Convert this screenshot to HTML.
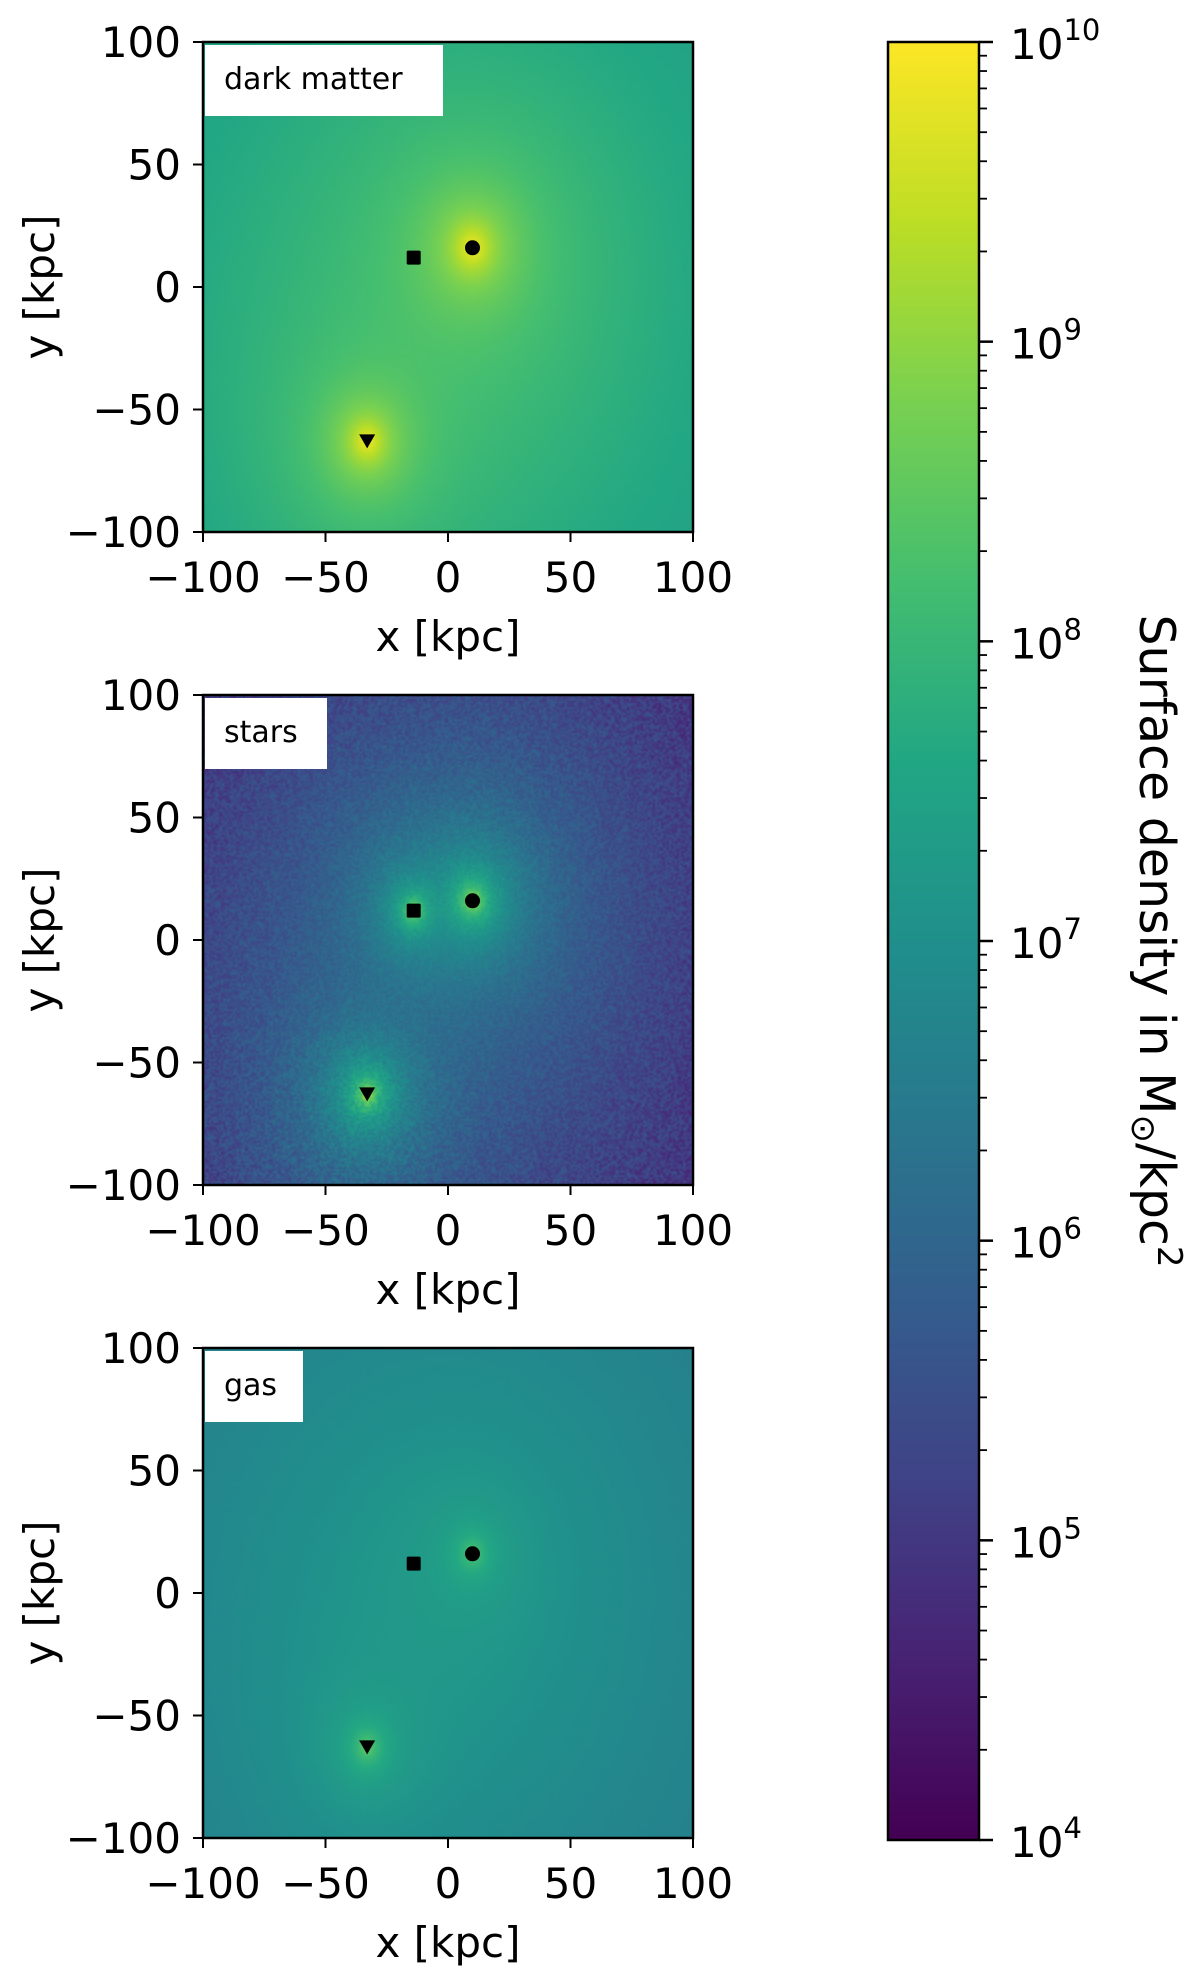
<!DOCTYPE html>
<html><head><meta charset="utf-8"><style>
html,body{margin:0;padding:0;background:#fff;}
#wrap{position:relative;width:1200px;height:1985px;overflow:hidden;font-family:"DejaVu Sans","Liberation Sans",sans-serif;}
canvas{position:absolute;}
svg{position:absolute;left:0;top:0;}
</style></head><body>
<div id="wrap">
<canvas id="c0" width="245" height="245" style="left:203px;top:42px;width:490px;height:490px"></canvas>
<canvas id="c1" width="245" height="245" style="left:203px;top:695px;width:490px;height:490px"></canvas>
<canvas id="c2" width="245" height="245" style="left:203px;top:1348px;width:490px;height:490px"></canvas>
<canvas id="cb" width="1" height="600" style="left:888px;top:42px;width:91px;height:1798px"></canvas>
<svg id="svg" width="1200" height="1985" xmlns="http://www.w3.org/2000/svg"></svg>
</div>
<script>
// ---- data ----
const panelNames = ["dark matter","stars","gas"];
const panelTops = [42,695,1348];
const xTicks = [-100,-50,0,50,100];
const yTicks = [-100,-50,0,50,100];
const cbarExps = [4,5,6,7,8,9,10];
// markers (x,y in kpc)
const markerX = [10,-14,-33];
const markerY = [16,12,-63];
const markerKind = ["circle","square","triangle"];
// density model parameters per panel
const bgLog = [6.3,3.8,6.0];
const compX = [[10,-33,0],[10,-14,-33,-5],[10,-33,-5]];
const compY = [[16,-63,-5],[16,12,-63,-10],[16,-63,0]];
const compLog = [[9.8,9.8,7.95],[9.3,9.0,9.2,5.35],[8.3,8.6,7.05]];
const compScale = [[4,3.5,50],[1.5,1.5,1.5,35],[2,1.5,55]];
const compExp = [[1.0,1.0,0.75],[1.25,1.25,1.25,0.75],[0.75,0.75,0.75]];
const noiseAmp = [0.02,0.75,0.03];

const VIR=[[68,1,84],[72,35,116],[64,67,135],[52,94,141],[41,120,142],[32,144,140],[34,167,132],[68,190,112],[121,209,81],[189,222,38],[253,231,37]];
function vir(t){t=Math.max(0,Math.min(1,t));const f=t*10,i=Math.min(9,Math.floor(f)),r=f-i;const a=VIR[i],b=VIR[i+1];return[a[0]+(b[0]-a[0])*r,a[1]+(b[1]-a[1])*r,a[2]+(b[2]-a[2])*r];}
let seed=12345;function rnd(){seed=(seed*1103515245+12345)%2147483648;return seed/2147483648;}

const L=203,W=490;
function sx(v){return L+(v+100)/200*W;}
function sy(v,top){return top+(100-v)/200*W;}

for(let p=0;p<3;p++){
  const cv=document.getElementById('c'+p),ctx=cv.getContext('2d'),N=245;
  const img=ctx.createImageData(N,N);
  for(let j=0;j<N;j++)for(let i=0;i<N;i++){
    const x=-100+(i+0.5)/N*200,y=100-(j+0.5)/N*200;
    let s=Math.pow(10,bgLog[p]);
    for(let k=0;k<compX[p].length;k++){
      const dx=x-compX[p][k],dy=(y-compY[p][k])*0.8,r2=(dx*dx+dy*dy)/(compScale[p][k]*compScale[p][k]);
      s+=Math.pow(10,compLog[p][k])/Math.pow(1+r2,compExp[p][k]);
    }
    let lg=Math.log10(s);
    const dist=Math.sqrt(x*x+y*y)/140;
    lg+=(rnd()-0.5)*noiseAmp[p]*(0.3+dist);
    const c=vir((lg-4)/6),o=(j*N+i)*4;
    img.data[o]=c[0];img.data[o+1]=c[1];img.data[o+2]=c[2];img.data[o+3]=255;
  }
  ctx.putImageData(img,0,0);
}
(function(){const cv=document.getElementById('cb'),ctx=cv.getContext('2d');for(let j=0;j<600;j++){const c=vir(1-j/599);ctx.fillStyle=`rgb(${c[0]|0},${c[1]|0},${c[2]|0})`;ctx.fillRect(0,j,1,1);}})();

const svg=document.getElementById('svg'),NS='http://www.w3.org/2000/svg';
function mk(tag,attrs,parent){const e=document.createElementNS(NS,tag);for(const k in attrs)e.setAttribute(k,attrs[k]);(parent||svg).appendChild(e);return e;}

for(let p=0;p<3;p++){
  const top=panelTops[p];
  const g=mk('g',{});
  
  
  const box=mk('rect',{x:205,y:top+3,width:panelNames[p]=='dark matter'?238:panelNames[p]=='stars'?122:98,height:71,fill:'#fff'},g);
  
  
  const lt=mk('text',{x:224,y:top+47,'font-size':30,fill:'#000'},g);lt.textContent=panelNames[p];
  
  
  for(let m=0;m<3;m++){
    const cx=sx(markerX[m]),cy=sy(markerY[m],top);let e;
    if(markerKind[m]=='circle')e=mk('circle',{cx:cx,cy:cy,r:7.5,fill:'#000'},g);
    else if(markerKind[m]=='square')e=mk('rect',{x:cx-7,y:cy-7,width:14,height:14,rx:1.5,fill:'#000'},g);
    else e=mk('path',{d:`M${cx-8},${cy-7}L${cx+8},${cy-7}L${cx},${cy+7}Z`,fill:'#000'},g);
    
    
  }
  const fr=mk('rect',{x:L,y:top,width:W,height:W,fill:'none',stroke:'#000','stroke-width':2.5},g);
  
  
  xTicks.forEach(v=>{const x=sx(v);mk('line',{x1:x,x2:x,y1:top+W,y2:top+W+10,stroke:'#000','stroke-width':2},g);
    const t=mk('text',{x:x,y:top+W+60,'font-size':42,'text-anchor':'middle'},g);t.textContent=(v<0?'\u2212':'')+Math.abs(v);
    
    });
  yTicks.forEach(v=>{const y=sy(v,top);mk('line',{x1:L-10,x2:L,y1:y,y2:y,stroke:'#000','stroke-width':2},g);
    const t=mk('text',{x:L-22,y:y+15,'font-size':42,'text-anchor':'end'},g);t.textContent=(v<0?'\u2212':'')+Math.abs(v);
    
    });
  const xl=mk('text',{x:L+W/2,y:top+W+119,'font-size':42,'text-anchor':'middle'},g);xl.textContent='x [kpc]';
  
  
  const yl=mk('text',{x:0,y:0,'font-size':42,'text-anchor':'middle',transform:`translate(54,${top+W/2}) rotate(-90)`},g);yl.textContent='y [kpc]';
  
  
}
const CT=42,CB=1840,CL=888,CR=979,dec=(CB-CT)/6;
function cy(lg){return CB-(lg-4)*dec;}
const cf=mk('rect',{x:CL,y:CT,width:CR-CL,height:CB-CT,fill:'none',stroke:'#000','stroke-width':2.5});


cbarExps.forEach(e=>{const y=cy(e);mk('line',{x1:CR,x2:CR+14,y1:y,y2:y,stroke:'#000','stroke-width':2.5});
  const t=mk('text',{x:1010,y:y+17,'font-size':42});t.textContent='10';
  const s=mk('tspan',{dy:-19,'font-size':29},t);s.textContent=e;
  
  
  if(e<10)for(let m=2;m<10;m++){const yy=cy(e+Math.log10(m));mk('line',{x1:CR,x2:CR+8,y1:yy,y2:yy,stroke:'#000','stroke-width':1.8});}
});
const cl=mk('text',{x:0,y:0,'font-size':49,'text-anchor':'middle',transform:`translate(1140,${(CT+CB)/2}) rotate(90)`});
cl.textContent='Surface density in M';
const s1=mk('tspan',{'font-size':34,dy:8},cl);s1.textContent='\u2299';
const s2=mk('tspan',{dy:-8},cl);s2.textContent='/kpc';
const s3=mk('tspan',{'font-size':34,dy:-18},cl);s3.textContent='2';


</script>
</body></html>
